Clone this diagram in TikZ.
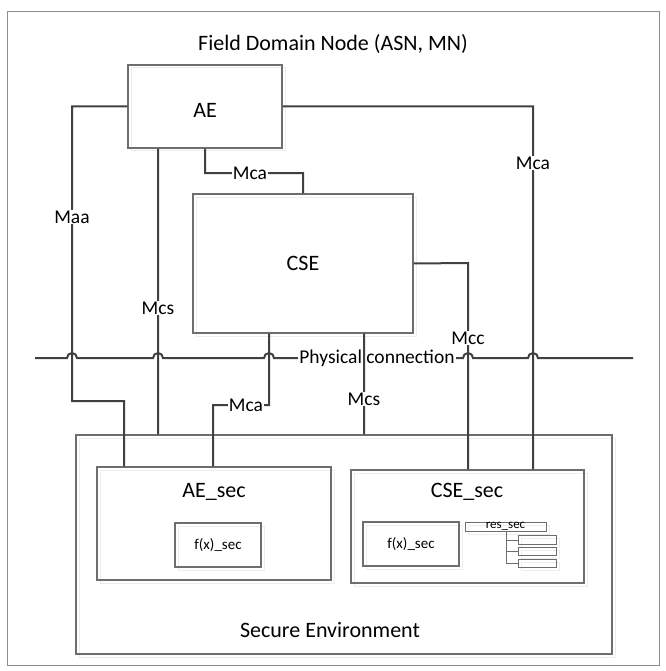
\documentclass[tikz,border=0pt]{standalone}
\usepackage{fontspec}
\setmainfont{Carlito}
\usetikzlibrary{positioning,calc}
\definecolor{linkgray}{HTML}{404040}
\definecolor{boxgray}{HTML}{6E6E6E}
\tikzset{
    box/.style={draw=boxgray, line width=1.1pt, inner sep=0pt,
        preaction={draw=black!7, line width=1pt, transform canvas={shift={(3pt,-3pt)}}}},
    link/.style={draw=linkgray, line width=2pt},
    lbl/.style={fill=white, inner sep=1pt, font=\fontsize{19.5}{21}\selectfont},
    big/.style={inner sep=0pt, font=\fontsize{22}{25}\selectfont}
}

\begin{document}
\begin{tikzpicture}[x=1pt, y=-1pt]
                        \useasboundingbox (0,0) rectangle (665,671);
                        \draw[draw=black!45, line width=0.8pt] (7,11) rectangle (659,665);
                        \node[big] (title) at (333,44) {Field Domain Node (ASN, MN)};

                        \node[box, minimum width=154pt, minimum height=83pt] (ae) at (205,106.5) {};
                        \node[big] (aetxt) at (205,110) {AE};
                        \node[box, minimum width=220pt, minimum height=139pt] (cse) at (303,263.5) {};
                        \node[big] (csetxt) at (303,263) {CSE};
                        \node[box, minimum width=536pt, minimum height=219pt] (secenv) at (344,544.5) {};
                        \node[big] (secenvtxt) at (330,630) {Secure Environment};
                        \node[box, minimum width=234pt, minimum height=113pt] (aesec) at (214,523.5) {};
                        \node[big] (aesectxt) at (214,492) {AE\_sec};
                        \node[box, minimum width=86pt, minimum height=44pt, font=\fontsize{15}{17}\selectfont] (aefx) at (218,545) {f(x)\_sec};
                        \node[box, minimum width=233pt, minimum height=113pt] (csesec) at (467.5,526.5) {};
                        \node[big] (csesectxt) at (467,492) {CSE\_sec};
                        \node[box, minimum width=96pt, minimum height=44pt, font=\fontsize{15}{17}\selectfont] (csefx) at (411,544) {f(x)\_sec};
                        \node[box, line width=0.8pt, minimum width=81pt, minimum height=9pt, font=\fontsize{13}{13}\selectfont] (ressec) at (505.5,526.5) {\raisebox{1.5pt}{res\_sec}};
                        \node[box, line width=0.8pt, minimum width=38pt, minimum height=8.5pt] (res1) at (537,540) {};
                        \node[box, line width=0.8pt, minimum width=38pt, minimum height=8.5pt] (res2) at (537,551.5) {};
                        \node[box, line width=0.8pt, minimum width=38pt, minimum height=8.5pt] (res3) at (537,563.5) {};

                        \coordinate (maa1) at (72,401);
                        \coordinate (maa2) at (124,401);
                        \coordinate (mca1) at (205,173);
                        \coordinate (mca2) at (213,405);
                        \coordinate (mcc1) at (468,263);
                        \coordinate (mcar) at (533,106.5);
                        \coordinate (tree) at (506,531);
                        \coordinate (physl) at (35,358);
                        \coordinate (physr) at (633,358);

                        \draw[boxgray, line width=0.8pt]
                        (tree) -- (tree |- res3.west)
                        (res1.west -| tree) -- (res1.west)
                        (res2.west -| tree) -- (res2.west)
                        (res3.west -| tree) -- (res3.west);

                        \draw[link] (physl)
                        foreach \x in {72,158,269,468,533} { -- (\x-5,358) arc[start angle=180, end angle=360, radius=5] }
                        -- (physr);
                        \node[lbl] (phys) at (377,358) {Physical connection};

                        \draw[link]
                        (ae.west) -- (ae.west -| maa1) -- (maa1) -- (maa2) -- (maa2 |- aesec.north)
                        (ae.south -| 158,0) -- (secenv.north -| 158,0)
                        (ae.south -| mca1) -- (mca1) -- (mca1 -| cse.north) -- (cse.north)
                        (ae.east) -- (mcar) -- (mcar |- csesec.north)
                        (cse.south -| 269,0) -- (mca2 -| 269,0) -- (mca2) -- (mca2 |- aesec.north)
                        (cse.south -| 364,0) -- (secenv.north -| 364,0)
                        (cse.east) -- (mcc1) -- (mcc1 |- csesec.north);

                        \node[lbl] (maa) at (72,217) {Maa};
                        \node[lbl] (mcs1) at (158,308) {Mcs};
                        \node[lbl] (mcatop) at (250,173) {Mca};
                        \node[lbl] (mcaright) at (533,163) {Mca};
                        \node[lbl] (mcalow) at (246,405) {Mca};
                        \node[lbl] (mcs2) at (364,399) {Mcs};
                        \node[lbl] (mcc) at (468,338) {Mcc};
                    \end{tikzpicture}
\end{document}
